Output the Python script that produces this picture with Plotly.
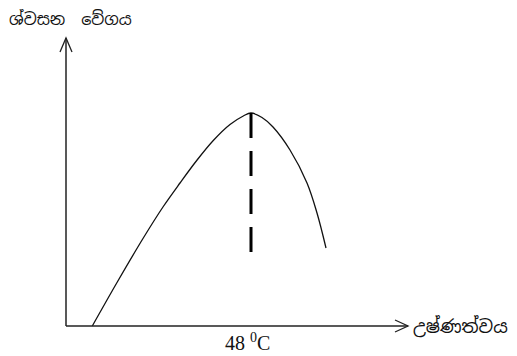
import plotly.graph_objects as go

# curve (x: temperature scale units, y: respiration rate units)
curve_x = [26.3, 51.3, 77.3, 97.3, 114, 130.7, 147.3, 164, 177.3, 185, 196, 207, 224, 241, 251, 260]
curve_y = [0, 44, 88, 119.5, 143, 165.5, 185.5, 201.5, 210, 213, 208.5, 199, 176, 143, 113, 78]

peak_x = 185
peak_y = 213
dash_bottom = 71

y_label = "ශ්වසන  වේගය"
x_label = "උෂ්ණත්වය"
peak_label = "48 <sup>0</sup>C"

AX = "#222222"
sinhala_font = "Noto Sans Sinhala, Iskoola Pota, Noto Sans, sans-serif"

fig = go.Figure()

fig.add_trace(
    go.Scatter(
        x=curve_x,
        y=curve_y,
        mode="lines",
        line=dict(color="#111111", width=1.3, shape="spline", smoothing=1),
        hoverinfo="skip",
    )
)

fig.add_trace(
    go.Scatter(
        x=[peak_x, peak_x],
        y=[peak_y, dash_bottom],
        mode="lines",
        line=dict(color="#000000", width=3, dash="25px,13px"),
        hoverinfo="skip",
    )
)

# axes with open arrowheads
fig.add_shape(type="line", x0=0, y0=0, x1=0, y1=288, line=dict(color=AX, width=1.5))
fig.add_shape(type="line", x0=0, y0=0, x1=342, y1=0, line=dict(color=AX, width=1.5))
fig.add_shape(
    type="path",
    path="M -6,274 L 0,288 L 6,274",
    line=dict(color=AX, width=1.3),
)
fig.add_shape(
    type="path",
    path="M 329,6 L 342,0 L 329,-6",
    line=dict(color=AX, width=1.3),
)

fig.add_annotation(
    x=4, y=307, text=y_label, showarrow=False,
    font=dict(family=sinhala_font, size=16, color="#111111"),
)
fig.add_annotation(
    x=345, y=0, text=x_label, showarrow=False, xanchor="left",
    font=dict(family=sinhala_font, size=18, color="#111111"),
)
fig.add_annotation(
    x=181, y=-16, text=peak_label, showarrow=False,
    font=dict(family="Liberation Serif, Times New Roman, serif", size=20, color="#111111"),
)

fig.update_layout(
    width=517,
    height=356,
    margin=dict(l=0, r=0, t=0, b=0),
    showlegend=False,
    paper_bgcolor="white",
    plot_bgcolor="white",
    xaxis=dict(range=[-66, 451], visible=False, fixedrange=True),
    yaxis=dict(range=[-30, 326], visible=False, fixedrange=True),
)

fig.write_html(
    "out.html",
    config={"displayModeBar": False},
    post_script="document.body.style.margin='0';",
)
